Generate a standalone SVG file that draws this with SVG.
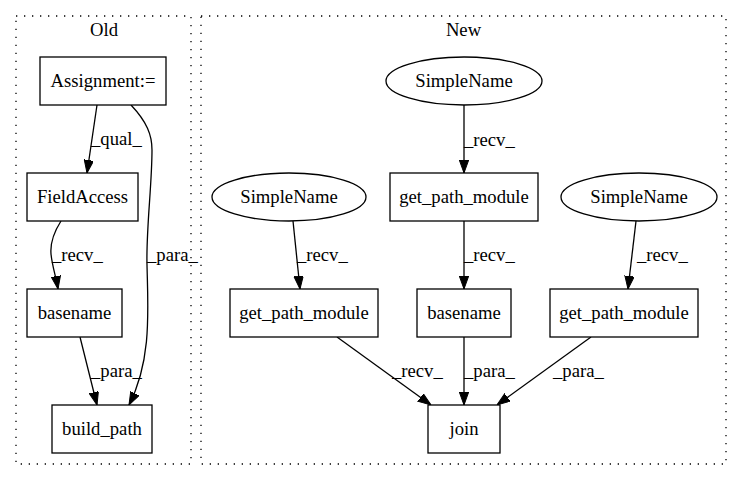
<svg xmlns="http://www.w3.org/2000/svg" width="743" height="480" viewBox="0 0 743 480">
<style>
text{font-family:"Liberation Serif","Times New Roman",serif;font-size:18.67px;fill:#000}
.c{text-anchor:middle}
.cl{fill:none;stroke:#000;stroke-dasharray:1.3,6.7;stroke-width:1.3}
.n{fill:#fff;stroke:#000;stroke-width:1.3}
.e{fill:none;stroke:#000;stroke-width:1.3;marker-end:url(#ah)}
</style>
<defs>
<marker id="ah" markerUnits="userSpaceOnUse" markerWidth="13" markerHeight="10" refX="13" refY="4.7" orient="auto">
<path d="M0,0 L13,4.7 L0,9.4 z" fill="#000" stroke="#000" stroke-width="1"/>
</marker>
</defs>
<rect width="743" height="480" fill="#fff"/>
<g id="cluster_old">
<rect class="cl" x="16" y="16" width="175" height="448"/>
<text class="c" x="104" y="36">Old</text>
</g>
<g id="cluster_new">
<rect class="cl" x="201" y="16" width="525" height="448"/>
<text class="c" x="463.5" y="36">New</text>
</g>
<g id="edges">
<path class="e" d="M97,105 L87,173"/>
<text x="91" y="145">_qual_</text>
<path class="e" d="M131,105 C147,122 152,135 152,150 C152,185 146,230 147,265 C148,310 152,360 129,405"/>
<text x="147" y="261">_para_</text>
<path class="e" d="M61,221 C54,232 50,242 51,254 C52,265 56,277 58,289"/>
<text x="52" y="261">_recv_</text>
<path class="e" d="M80,337 L97,405"/>
<text x="91" y="377">_para_</text>
<path class="e" d="M464,105 L464,173"/>
<text x="464" y="146">_recv_</text>
<path class="e" d="M293,221 L300,289"/>
<text x="297" y="261">_recv_</text>
<path class="e" d="M464,221 L464,289"/>
<text x="464" y="261">_recv_</text>
<path class="e" d="M636,221 L628,289"/>
<text x="637" y="261">_recv_</text>
<path class="e" d="M337,337 L431,405"/>
<text x="392" y="377">_recv_</text>
<path class="e" d="M464,337 L464,405"/>
<text x="464" y="377">_para_</text>
<path class="e" d="M591,337 L497,405"/>
<text x="553" y="377">_para_</text>
</g>
<g id="assignment">
<rect class="n" x="40" y="57" width="126" height="48"/>
<text class="c" x="103" y="87">Assignment:=</text>
</g>
<g id="fieldaccess">
<rect class="n" x="27" y="173" width="111" height="48"/>
<text class="c" x="82.5" y="203">FieldAccess</text>
</g>
<g id="basename_old">
<rect class="n" x="27" y="289" width="95" height="48"/>
<text class="c" x="74.5" y="319">basename</text>
</g>
<g id="build_path">
<rect class="n" x="52" y="405" width="100" height="48"/>
<text class="c" x="102" y="435">build_path</text>
</g>
<g id="simplename_top">
<ellipse class="n" cx="464" cy="81" rx="78" ry="24"/>
<text class="c" x="464" y="87">SimpleName</text>
</g>
<g id="gpm_mid">
<rect class="n" x="390" y="173" width="148" height="48"/>
<text class="c" x="464" y="203">get_path_module</text>
</g>
<g id="simplename_left">
<ellipse class="n" cx="289" cy="197" rx="77" ry="24"/>
<text class="c" x="289" y="203">SimpleName</text>
</g>
<g id="simplename_right">
<ellipse class="n" cx="639" cy="197" rx="78" ry="24"/>
<text class="c" x="639" y="203">SimpleName</text>
</g>
<g id="gpm_left">
<rect class="n" x="230" y="289" width="148" height="48"/>
<text class="c" x="304" y="319">get_path_module</text>
</g>
<g id="basename_new">
<rect class="n" x="417" y="289" width="94" height="48"/>
<text class="c" x="464" y="319">basename</text>
</g>
<g id="gpm_right">
<rect class="n" x="550" y="289" width="148" height="48"/>
<text class="c" x="624" y="319">get_path_module</text>
</g>
<g id="join">
<rect class="n" x="428" y="405" width="72" height="48"/>
<text class="c" x="464" y="435">join</text>
</g>
</svg>
